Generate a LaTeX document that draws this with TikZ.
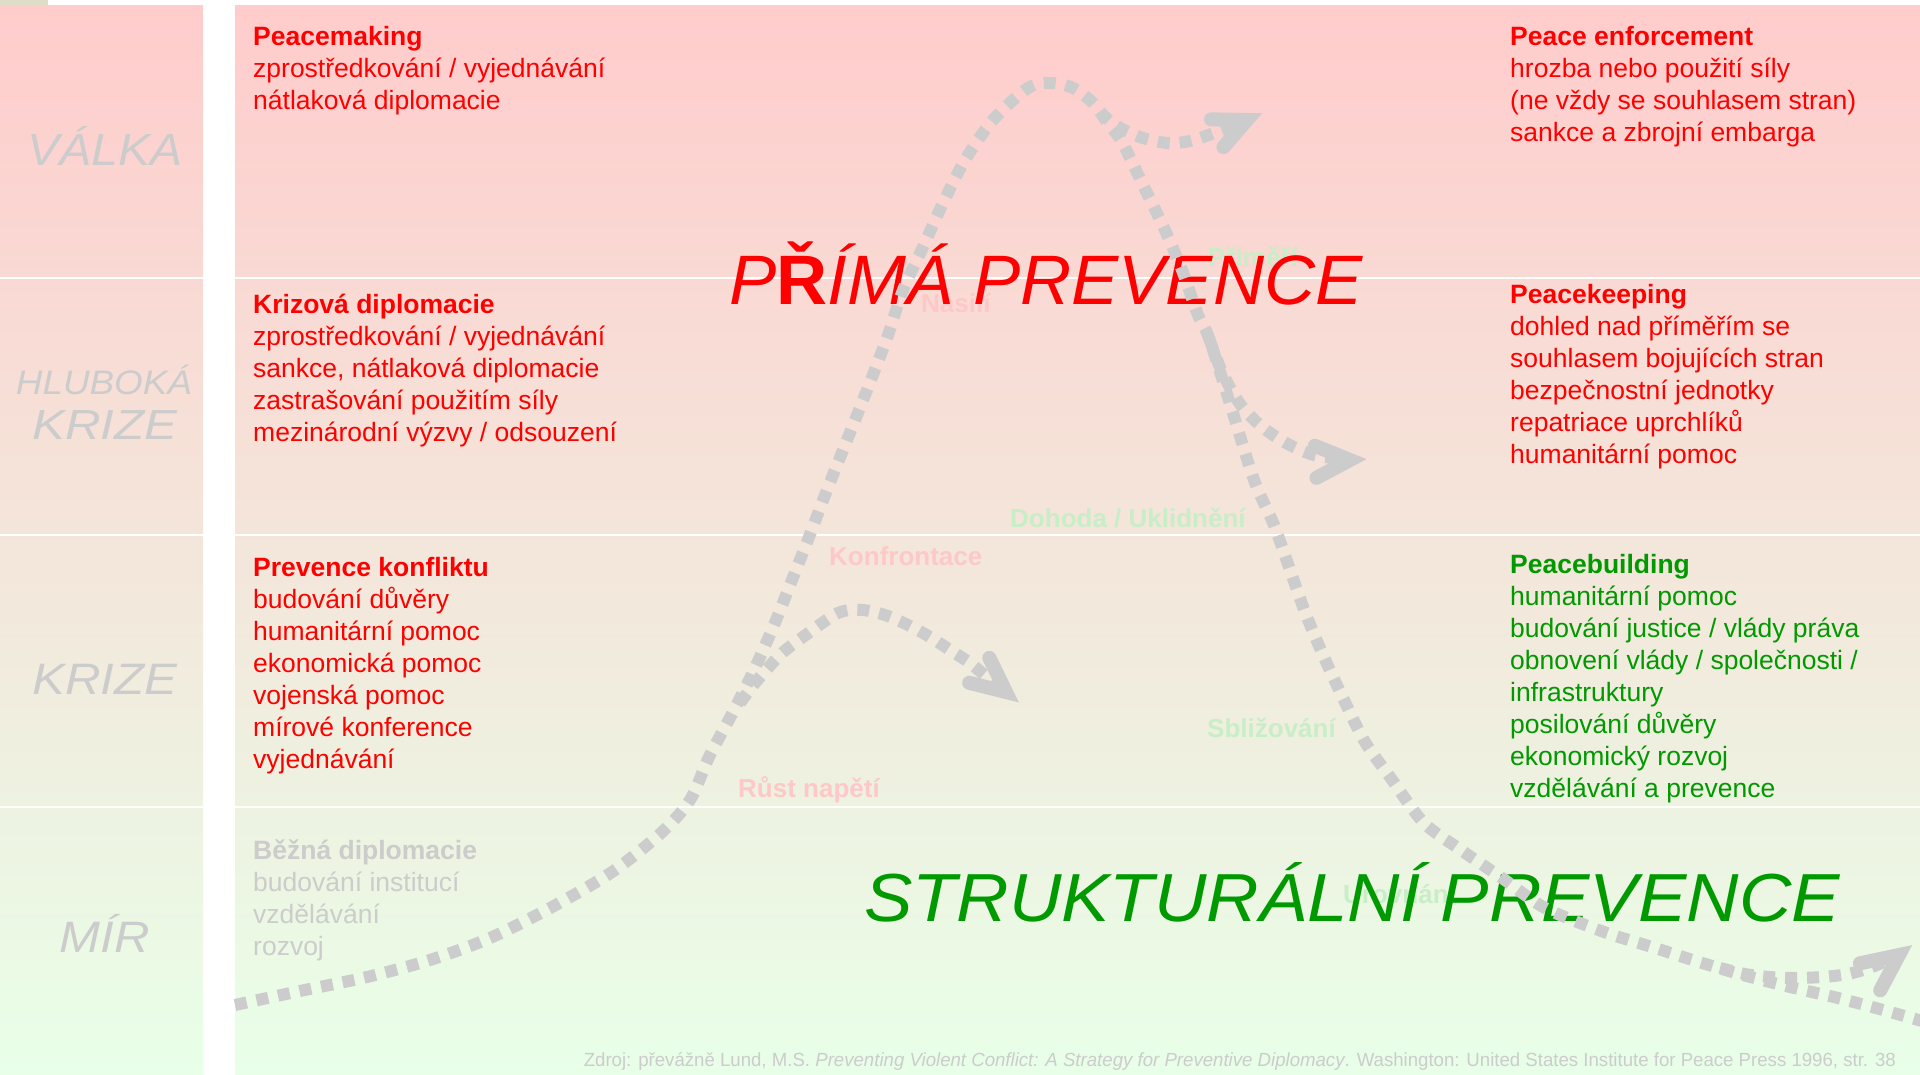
\documentclass[tikz,border=0pt]{standalone}
\usepackage{fontspec}
\usepackage{graphicx}
\setmainfont{Liberation Sans}
\definecolor{bgtop}{HTML}{FFCCCC}
\definecolor{bgmid}{HTML}{F5EFE0}
\definecolor{bgbot}{HTML}{E8FFE8}
\definecolor{dotgray}{HTML}{CCCCCC}
\definecolor{labgray}{HTML}{CCCCCC}
\definecolor{txtred}{HTML}{FF0000}
\definecolor{txtgreen}{HTML}{009900}
\definecolor{faintred}{HTML}{FFC8C8}
\definecolor{faintgreen}{HTML}{C8EEC8}
\definecolor{cornerc}{HTML}{DDDDC8}
\newcommand{\blocklines}[1]{\vtop{\baselineskip=32pt\lineskiplimit=-50pt\lineskip=0pt\halign{##\hfil\cr#1\crcr}}}
\tikzset{
  blocktext/.style={anchor=base west, inner sep=0pt, font=\fontsize{26.5}{32}\selectfont},
  sidelab/.style={anchor=base, inner sep=0pt, text=labgray},
  faintlab/.style={anchor=base west, inner sep=0pt, font=\fontsize{26}{30}\selectfont\bfseries},
  title/.style={anchor=base, inner sep=0pt},
  dots/.style={draw=dotgray, line width=12pt, dash pattern=on 12pt off 10pt},
  chev/.style={draw=dotgray, line width=14pt, line cap=round, line join=miter, solid},
  sepline/.style={draw=white, line width=2pt}
}
\begin{document}
\begin{tikzpicture}[x=1pt,y=-1pt]
\useasboundingbox (0,0) rectangle (1920,1075);
% backgrounds
\fill[cornerc] (0,0) rectangle (48,6);
\shade[top color=bgtop, middle color=bgmid, bottom color=bgbot] (0,6) rectangle (203,1075);
\shade[top color=bgtop, middle color=bgmid, bottom color=bgbot] (235,6) rectangle (1920,1075);
\foreach \yy in {278,535,807}{
  \draw[sepline] (0,\yy) -- (203,\yy);
  \draw[sepline] (235,\yy) -- (1920,\yy);
}
% faint phase labels
\node[faintlab, text=faintred] (nasili) at (921,313) {Násilí};
\node[faintlab, text=faintgreen] (primeri) at (1208,267) {Příměří};
\node[faintlab, text=faintgreen] (dohoda) at (1010,527) {Dohoda / Uklidnění};
\node[faintlab, text=faintred] (konfr) at (829,565) {Konfrontace};
\node[faintlab, text=faintgreen] (sbliz) at (1207,737) {Sbližování};
\node[faintlab, text=faintred] (rust) at (738,797) {Růst napětí};
\node[faintlab, text=faintgreen] (urov) at (1343,903) {Urovnání};
% titles
\node[title, text=txtred, font=\fontsize{70}{80}\selectfont\itshape] (prima) at (1046,305)
  {\resizebox{633pt}{\height}{P{\upshape\bfseries Ř}ÍMÁ PREVENCE}};
\node[title, text=txtgreen, font=\fontsize{68}{78}\selectfont\itshape] (strukt) at (1352,921)
  {\resizebox{976pt}{\height}{STRUKTURÁLNÍ PREVENCE}};
% dotted curves
\draw[dots] plot[smooth, tension=0.5] coordinates {
 (235,1005) (300,991) (367,977) (430,960) (490,938) (552,907) (612,872) (661,833) (690,800)
 (709,757) (733,712) (754,670) (774,625) (792,580) (809,537) (827,490) (847,440) (867,390)
 (888,335) (903,290) (923,247) (943,203) (965,160) (993,120) (1028,88) (1051,83) (1073,88)
 (1093,103) (1107,122) (1122,142) (1143,185) (1164,228) (1182,270) (1198,315) (1209,338)
 (1232,410) (1254,480) (1274,525) (1289,567) (1305,612) (1323,655) (1343,698) (1365,742)
 (1390,777) (1423,822) (1458,848) (1502,878) (1545,908) (1604,932) (1652,947) (1699,962)
 (1743,975) (1790,987) (1838,998) (1883,1010) (1922,1021)};
\draw[dots] plot[smooth, tension=0.5] coordinates {
 (1100,112) (1115,125) (1140,137) (1167,143) (1190,141) (1214,133) (1247,120)};
\draw[dots] plot[smooth, tension=0.5] coordinates {
 (1209,338) (1222,372) (1240,404) (1261,426) (1286,443) (1314,455) (1350,460)};
\draw[dots] plot[smooth, tension=0.5] coordinates {
 (740,703) (755,683) (780,655) (803,637) (838,613) (862,610) (885,615) (908,625)
 (930,637) (950,650) (970,663) (988,678) (1006,692)};
\draw[dots] plot[smooth, tension=0.5] coordinates {
 (1720,968) (1745,974) (1770,977) (1796,978) (1822,977) (1848,974) (1872,967) (1899,955)};
% arrow heads
\coordinate (h1) at (1247,120);
\coordinate (h2) at (1350,460);
\coordinate (h3) at (1006,692);
\coordinate (h4) at (1899,955);
\draw[chev] (h1) ++(131:36) -- (h1) -- ++(181:36);
\draw[chev] (h2) ++(152:38) -- (h2) -- ++(202:38);
\draw[chev] (h3) ++(194:38) -- (h3) -- ++(244:38);
\draw[chev] (h4) ++(118:40) -- (h4) -- ++(168:40);
% text blocks left
\node[blocktext, text=txtred] (pm) at (253,45.5) {\blocklines{\textbf{Peacemaking}\cr
 zprostředkování / vyjednávání\cr nátlaková diplomacie}};
\node[blocktext, text=txtred] (kd) at (253,313.5) {\blocklines{\textbf{Krizová diplomacie}\cr
 zprostředkování / vyjednávání\cr sankce, nátlaková diplomacie\cr
 zastrašování použitím síly\cr mezinárodní výzvy / odsouzení}};
\node[blocktext, text=txtred] (pk) at (253,576) {\blocklines{\textbf{Prevence konfliktu}\cr
 budování důvěry\cr humanitární pomoc\cr ekonomická pomoc\cr vojenská pomoc\cr
 mírové konference\cr vyjednávání}};
\node[blocktext, text=labgray] (bd) at (253,859) {\blocklines{\textbf{Běžná diplomacie}\cr
 budování institucí\cr vzdělávání\cr rozvoj}};
% text blocks right
\node[blocktext, text=txtred] (pe) at (1510,45.5) {\blocklines{\textbf{Peace enforcement}\cr
 hrozba nebo použití síly\cr (ne vždy se souhlasem stran)\cr sankce a zbrojní embarga}};
\node[blocktext, text=txtred] (pkp) at (1510,303.5) {\blocklines{\textbf{Peacekeeping}\cr
 dohled nad příměřím se\cr souhlasem bojujících stran\cr bezpečnostní jednotky\cr
 repatriace uprchlíků\cr humanitární pomoc}};
\node[blocktext, text=txtgreen] (pb) at (1510,573) {\blocklines{\textbf{Peacebuilding}\cr
 humanitární pomoc\cr budování justice / vlády práva\cr obnovení vlády / společnosti /\cr
 infrastruktury\cr posilování důvěry\cr ekonomický rozvoj\cr vzdělávání a prevence}};
% side labels
\node[sidelab, font=\fontsize{45}{50}\selectfont\itshape] (valka) at (105,166) {\resizebox{155pt}{\height}{VÁLKA}};
\node[sidelab, font=\fontsize{34}{40}\selectfont\itshape] (hlub) at (104,394) {\resizebox{176pt}{\height}{HLUBOKÁ}};
\node[sidelab, font=\fontsize{42}{48}\selectfont\itshape] (krize1) at (105,439) {\resizebox{145pt}{\height}{KRIZE}};
\node[sidelab, font=\fontsize{44}{50}\selectfont\itshape] (krize2) at (105,694) {\resizebox{145pt}{\height}{KRIZE}};
\node[sidelab, font=\fontsize{44}{50}\selectfont\itshape] (mir) at (105,952) {\resizebox{90pt}{\height}{MÍR}};
% source
\node[anchor=base east, inner sep=0pt, text=labgray, font=\fontsize{19}{22}\selectfont] (src) at (1896,1066)
 {\resizebox{1312pt}{\height}{Zdroj: převážně Lund, M.S. \textit{Preventing Violent Conflict: A Strategy for Preventive Diplomacy}. Washington: United States Institute for Peace Press 1996, str. 38}};
\end{tikzpicture}
\end{document}
